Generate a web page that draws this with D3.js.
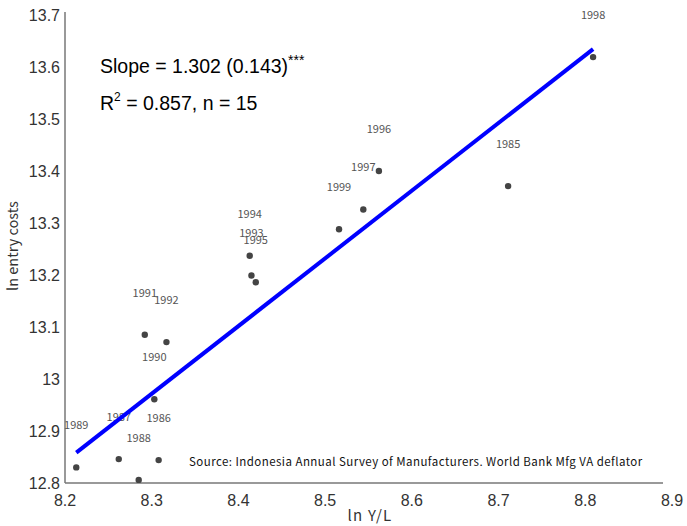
<!DOCTYPE html>
<html><head><meta charset="utf-8">
<script src="https://cdn.jsdelivr.net/npm/d3@7"></script>
<style>body{margin:0;background:#fff}svg{display:block}</style>
</head><body>
<script>
const years = [1985,1986,1987,1988,1989,1990,1991,1992,1993,1994,1995,1996,1997,1998,1999];
const lnYL  = [8.711,8.308,8.262,8.285,8.213,8.303,8.292,8.317,8.415,8.413,8.420,8.562,8.544,8.809,8.516];
const lnEntry = [13.371,12.844,12.846,12.806,12.830,12.961,13.085,13.071,13.199,13.237,13.186,13.400,13.326,13.619,13.288];
const xTicks = [8.2,8.3,8.4,8.5,8.6,8.7,8.8,8.9];
const yTicks = [12.8,12.9,13,13.1,13.2,13.3,13.4,13.5,13.6,13.7];
const fitSlope = [1.302];
const fitIntercept = [2.165];
const annotation = ["Slope = 1.302 (0.143)", "***", "R", "2", " = 0.857, n = 15"];
const sourceNote = ["Source: Indonesia Annual Survey of Manufacturers. World Bank Mfg VA deflator"];

const W = 687, H = 526;
const svg = d3.select("body").append("svg").attr("width", W).attr("height", H);
const x = d3.scaleLinear().domain([8.2, 8.9]).range([65, 672]);
const y = d3.scaleLinear().domain([12.8, 13.7]).range([483, 15]);
const tickFont = "'Liberation Sans', Arial, sans-serif";
const jpFont = "'Noto Sans CJK JP', 'Liberation Sans', sans-serif";

// axis lines
svg.append("line").attr("x1", 65).attr("x2", 65).attr("y1", 12).attr("y2", 483)
  .attr("stroke", "#777").attr("stroke-width", 1.5);
svg.append("line").attr("x1", 65).attr("x2", 663).attr("y1", 483).attr("y2", 483)
  .attr("stroke", "#777").attr("stroke-width", 1.5);

// tick labels
svg.selectAll(".yt").data(yTicks).enter().append("text")
  .attr("x", 60).attr("y", d => y(d)).attr("dy", "0.35em")
  .attr("text-anchor", "end").attr("font-family", tickFont).attr("font-size", 16).attr("fill", "#333")
  .text(d => d3.format("")(d));
svg.selectAll(".xt").data(xTicks).enter().append("text")
  .attr("x", d => x(d)).attr("y", 500).attr("dy", "0.35em")
  .attr("text-anchor", "middle").attr("font-family", tickFont).attr("font-size", 16).attr("fill", "#333")
  .text(d => d3.format(".1f")(d));

// axis titles
svg.append("text").attr("x", 370).attr("y", 516).attr("dy", "0.35em").attr("text-anchor", "middle")
  .attr("font-family", jpFont).attr("font-size", 15).attr("letter-spacing", 1.2).attr("fill", "#333").text("ln Y/L");
svg.append("text").attr("transform", "translate(13,246) rotate(-90)").attr("dy", "0.35em").attr("text-anchor", "middle")
  .attr("font-family", jpFont).attr("font-size", 14.5).attr("fill", "#333").text("ln entry costs");

const pts = years.map((yr, i) => ({yr, xv: lnYL[i], yv: lnEntry[i]}));

// points
svg.selectAll(".pt").data(pts).enter().append("circle")
  .attr("cx", d => x(d.xv)).attr("cy", d => y(d.yv)).attr("r", 3.2).attr("fill", "#444");
// labels
svg.selectAll(".lb").data(pts).enter().append("text")
  .attr("x", d => x(d.xv)).attr("y", d => y(d.yv) - 42).attr("dy", "0.35em")
  .attr("text-anchor", "middle").attr("font-family", jpFont).attr("font-size", 11).attr("fill", "#555")
  .text(d => d.yr);

// fit line
const xmin = d3.min(lnYL), xmax = d3.max(lnYL);
svg.append("line")
  .attr("x1", x(xmin)).attr("y1", y(fitIntercept[0] + fitSlope[0] * xmin))
  .attr("x2", x(xmax)).attr("y2", y(fitIntercept[0] + fitSlope[0] * xmax))
  .attr("stroke", "#0000ff").attr("stroke-width", 4);

// annotation
const annFont = "'Liberation Sans', Arial, sans-serif";
const t1 = svg.append("text").attr("x", 100).attr("y", 73).attr("font-family", annFont).attr("font-size", 19.5).attr("fill", "#000");
t1.append("tspan").text(annotation[0]);
t1.append("tspan").attr("dy", -8).attr("font-size", 14).text(annotation[1]);
const t2 = svg.append("text").attr("x", 100).attr("y", 110).attr("font-family", annFont).attr("font-size", 19.5).attr("fill", "#000");
t2.append("tspan").text(annotation[2]);
t2.append("tspan").attr("dy", -9).attr("font-size", 12).text(annotation[3]);
t2.append("tspan").attr("dy", 9).text(annotation[4]);

// source
svg.append("text").attr("x", 189).attr("y", 462).attr("dy", "0.35em")
  .attr("font-family", jpFont).attr("font-size", 11.5).attr("letter-spacing", 0.45).attr("fill", "#111").text(sourceNote[0]);
</script>
</body></html>
